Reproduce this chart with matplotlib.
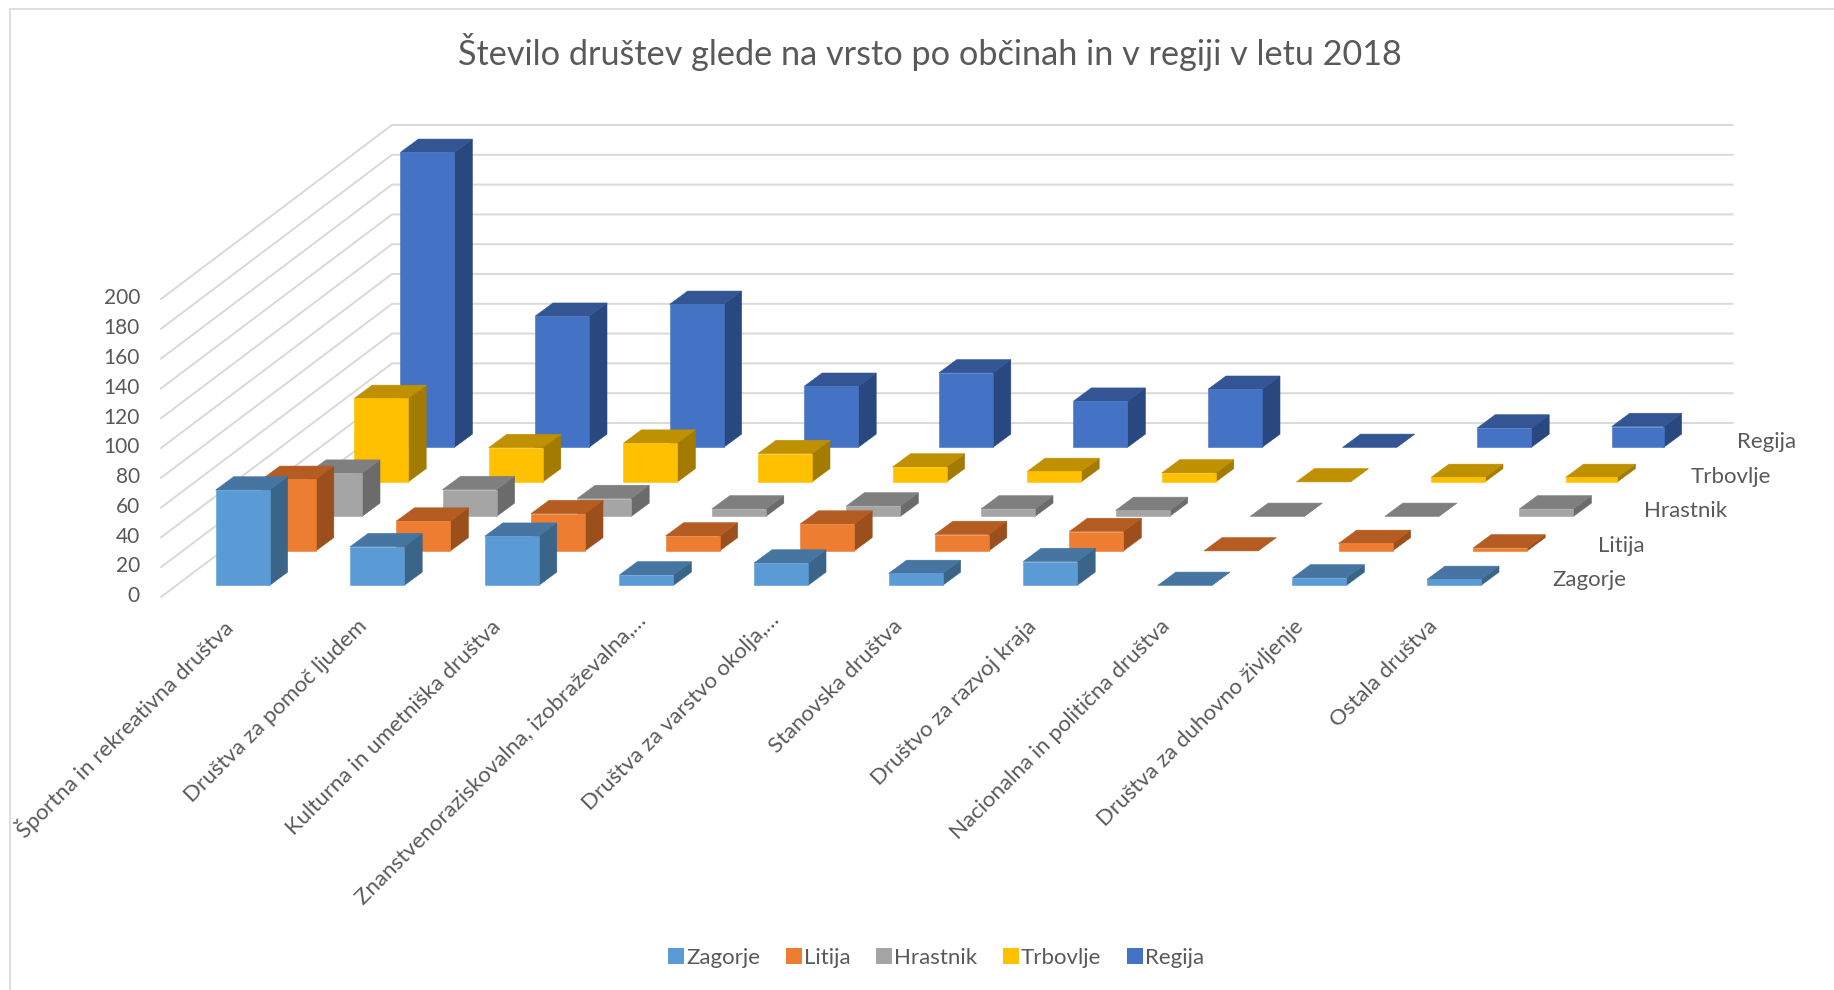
"""Number of societies by type, per municipality and region, 2018 (Excel-like 3D column chart)."""
import matplotlib
matplotlib.use("Agg")
import matplotlib.pyplot as plt
from matplotlib.patches import Patch, Polygon

plt.rcParams["font.family"] = ["Lato", "DejaVu Sans"]

TEXT = "#595959"
GRID = "#d9d9d9"

title = "Število društev glede na vrsto po občinah in v regiji v letu 2018"
categories = [
    "Športna in rekreativna društva",
    "Društva za pomoč ljudem",
    "Kulturna in umetniška društva",
    "Znanstvenoraziskovalna, izobraževalna,…",
    "Društva za varstvo okolja,…",
    "Stanovska društva",
    "Društvo za razvoj kraja",
    "Nacionalna in politična društva",
    "Društva za duhovno življenje",
    "Ostala društva",
]
series_names = ["Zagorje", "Litija", "Hrastnik", "Trbovlje", "Regija"]
zagorje = [64, 26, 33, 7, 15, 8, 16, 0, 5, 4]
litija = [48, 20, 25, 10, 18, 11, 13, 0, 5, 2]
hrastnik = [29, 18, 12, 5, 7, 5, 4, 0, 0, 5]
trbovlje = [56, 23, 26, 19, 10, 7, 6, 0, 3, 3]
regija = [198, 88, 96, 41, 50, 31, 39, 0, 13, 14]
value_ticks = [0, 20, 40, 60, 80, 100, 120, 140, 160, 180, 200]

# (front, top, side) shades per series
shades = [
    ("#5b9bd5", "#4575a0", "#3a6588"),
    ("#ed7d31", "#b55c22", "#9a4f1c"),
    ("#a5a5a5", "#7f7f7f", "#6b6b6b"),
    ("#ffc000", "#bf9000", "#a27b00"),
    ("#4472c4", "#335593", "#2a4880"),
]

# ── oblique projection, all in figure pixels ─────────────────────────────────
X0, Y0 = 215.6, 585.4   # front-left floor corner of first Zagorje bar
CAT_STEP = 134.6
ROW_DX, ROW_DY = 46.2, 34.5
BAR_W = 54.0
BAR_DX, BAR_DY = 18.0, 13.3
PX_PER_UNIT = 1.49


def proj(cat, row, value=0.0):
    return (X0 + cat * CAT_STEP + row * ROW_DX, Y0 - row * ROW_DY - value * PX_PER_UNIT)


def draw_bar(ax, cat, row, value, colors, width=BAR_W):
    front, top, side = colors
    x, y = proj(cat, row)
    h = value * PX_PER_UNIT
    r = x + width
    bx, by = BAR_DX, BAR_DY
    ax.add_patch(Polygon([(r, y), (r + bx, y - by), (r + bx, y - by - h), (r, y - h)],
                         fc=side, ec=side, lw=0.4, zorder=3))
    ax.add_patch(Polygon([(x, y - h), (r, y - h), (r + bx, y - by - h), (x + bx, y - by - h)],
                         fc=top, ec=top, lw=0.4, zorder=3))
    if value > 0:
        ax.add_patch(Polygon([(x, y), (r, y), (r, y - h), (x, y - h)],
                             fc=front, ec=front, lw=0.4, zorder=3))


fig = plt.figure(figsize=(18.34, 9.9), dpi=100)
ax = fig.add_axes([0, 0, 1, 1])
ax.set_xlim(0, 1834)
ax.set_ylim(990, 0)
ax.axis("off")

# walls
FRONT_X, FRONT_Y = 161.0, 597.0
BACK_X, BACK_Y = 392.0, 423.0
RIGHT_X = 1732.5
for v in value_ticks:
    dy = v * PX_PER_UNIT
    ax.plot([FRONT_X, BACK_X, RIGHT_X], [FRONT_Y - dy, BACK_Y - dy, BACK_Y - dy],
            color=GRID, lw=1.4, solid_joinstyle="miter", zorder=1)
    ax.text(140, FRONT_Y - dy - 0.7, str(v), ha="right", va="center", fontsize=15, color=TEXT)

# back row first so that nearer bars cover it
all_series = [zagorje, litija, hrastnik, trbovlje, regija]
for row in range(len(all_series) - 1, -1, -1):
    for cat, val in enumerate(all_series[row]):
        # last column of the two back rows is drawn slightly narrower in the original
        width = BAR_W - 2.2 if cat == 9 and row >= 3 else BAR_W
        draw_bar(ax, cat, row, val, shades[row], width)
    lx, ly = proj(9.0, row)
    ax.text(lx + 125, ly - 5, series_names[row], ha="left", va="center", fontsize=16, color=TEXT)

# category labels hang from the floor at 45 degrees
for cat, name in enumerate(categories):
    x, y = proj(cat, 0)
    # the cut-off labels end a little further up and right
    nudge = 11 if name.endswith("…") else 0
    ax.text(x + 14 - 0.7 * cat + nudge, y + 38 - nudge * 0.6, name, rotation=45,
            rotation_mode="anchor", ha="right", va="center", fontsize=16, color=TEXT)

ax.text(930, 52, title, ha="center", va="center", fontsize=24.7, color=TEXT)
# frame remnants of the embedded chart
ax.plot([10, 10, 1834], [990, 9, 9], color=GRID, lw=1.2, solid_joinstyle="miter", zorder=1)

handles = [Patch(fc=s[0], ec="none", label=n) for s, n in zip(shades, series_names)]
ax.legend(handles=handles, ncol=5, loc="center", bbox_to_anchor=(936 / 1834, 1 - 958 / 990),
          frameon=False, fontsize=16, labelcolor=TEXT, handlelength=0.72, handleheight=0.72,
          handletextpad=0.09, columnspacing=1.15)

fig.savefig("out.png", dpi=100)
